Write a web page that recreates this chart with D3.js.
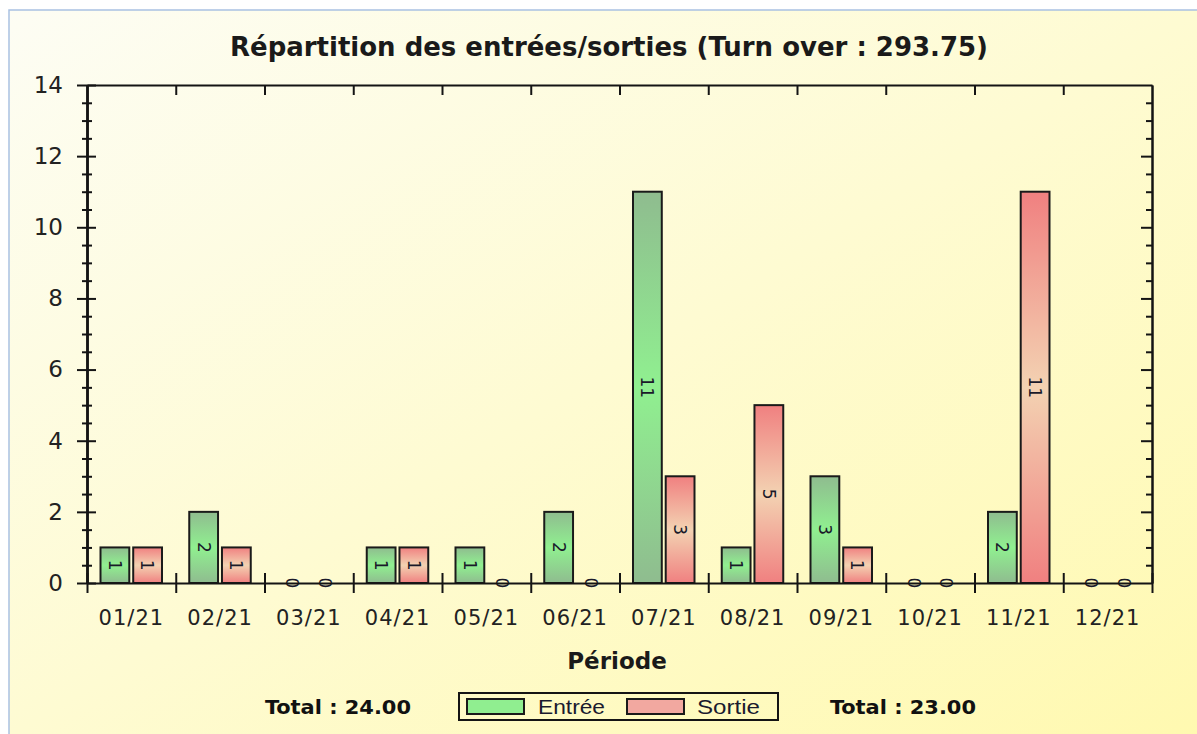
<!DOCTYPE html>
<html><head><meta charset="utf-8">
<script src="https://cdn.jsdelivr.net/npm/d3@7"></script>
<style>html,body{margin:0;padding:0;background:#fff;}svg{display:block;}</style>
</head><body>
<script>
const categories = ["01/21","02/21","03/21","04/21","05/21","06/21","07/21","08/21","09/21","10/21","11/21","12/21"];
const seriesNames = ["Entrée","Sortie"];
const entree = [1,2,0,1,1,2,11,1,3,0,2,0];
const sortie = [1,1,0,1,0,0,3,5,1,0,11,0];
const yMajorTicks = [0,2,4,6,8,10,12,14];
const yMinorTicks = [0.5,1,1.5,2.5,3,3.5,4.5,5,5.5,6.5,7,7.5,8.5,9,9.5,10.5,11,11.5,12.5,13,13.5];
const title = "Répartition des entrées/sorties (Turn over : 293.75)";
const xTitle = "Période";

const W = 1197, H = 734;
const L = 87, R = 1152, T = 85, B = 583;
const svg = d3.select("body").append("svg").attr("width", W).attr("height", H);
const defs = svg.append("defs");

const bg = defs.append("linearGradient").attr("id","bg").attr("x1",0).attr("y1",0).attr("x2",1).attr("y2",1);
bg.append("stop").attr("offset","0%").attr("stop-color","#fdfdf4");
bg.append("stop").attr("offset","100%").attr("stop-color","#fff9b0");

function barGrad(id, edge, mid){
  const g = defs.append("linearGradient").attr("id",id).attr("x1",0).attr("y1",0).attr("x2",0).attr("y2",1);
  g.append("stop").attr("offset","0%").attr("stop-color",edge);
  g.append("stop").attr("offset","50%").attr("stop-color",mid);
  g.append("stop").attr("offset","100%").attr("stop-color",edge);
}
barGrad("gGreen","#8fbc8f","#90f090");
barGrad("gRed","#f08080","#f3d2b2");
const fills = ["url(#gGreen)","url(#gRed)"];

svg.append("rect").attr("x",9).attr("y",10).attr("width",W-9+2).attr("height",H-10+2)
  .attr("fill","url(#bg)").attr("stroke","#a9c1e2").attr("stroke-width",1.5);

const x = d3.scaleBand().domain(categories).range([L,R]).paddingInner(0).paddingOuter(0);
const xi = d3.scaleBand().domain(seriesNames).range([13.5,75]).paddingInner(0.12);
const xb = d3.scaleLinear().domain([0,categories.length]).range([L,R]);
const y = d3.scaleLinear().domain([0,14]).range([B,T]);

const data = categories.map((c,i)=>({c, vals:[entree[i], sortie[i]]}));

// bars
const groups = svg.append("g").selectAll("g").data(data).join("g")
  .attr("transform", d=>`translate(${x(d.c)},0)`);
groups.selectAll("rect").data(d=>d.vals.map((v,k)=>({v,k})).filter(o=>o.v>0)).join("rect")
  .attr("x", o=>xi(seriesNames[o.k])).attr("width", xi.bandwidth())
  .attr("y", o=>y(o.v)).attr("height", o=>y(0)-y(o.v))
  .attr("fill", o=>fills[o.k]).attr("stroke","#1a1a1a").attr("stroke-width",2);

// value labels
groups.selectAll("text").data(d=>d.vals.map((v,k)=>({v,k}))).join("text")
  .attr("transform", o=>`translate(${xi(seriesNames[o.k])+xi.bandwidth()/2},${(y(o.v)+y(0))/2}) rotate(90)`)
  .attr("text-anchor","middle").attr("dy","0.36em")
  .attr("font-family","DejaVu Sans, sans-serif").attr("font-size",17).attr("fill","#1a1a2a")
  .text(o=>o.v);

const axStyle = g => { g.selectAll("path,line").attr("stroke","#141414").attr("stroke-width",2); g.selectAll("text").attr("fill","#222"); };

// left axis
svg.append("g").attr("transform",`translate(${L},0)`)
  .call(d3.axisLeft(y).tickValues(yMajorTicks).tickSize(10).tickSizeOuter(0).tickPadding(14).tickFormat(d3.format("d")))
  .call(g=>g.selectAll("text").attr("font-family","DejaVu Sans, sans-serif").attr("font-size",23))
  .call(axStyle);
svg.append("g").attr("transform",`translate(${L},0)`)
  .call(d3.axisRight(y).tickValues(yMajorTicks).tickSize(9).tickSizeOuter(0).tickFormat(""))
  .call(axStyle);
svg.append("g").attr("transform",`translate(${L},0)`)
  .call(d3.axisLeft(y).tickValues(yMinorTicks).tickSize(5).tickSizeOuter(0).tickFormat(""))
  .call(axStyle);
svg.append("g").attr("transform",`translate(${L},0)`)
  .call(d3.axisRight(y).tickValues(yMinorTicks).tickSize(5).tickSizeOuter(0).tickFormat(""))
  .call(axStyle);

// right axis
svg.append("g").attr("transform",`translate(${R},0)`)
  .call(d3.axisLeft(y).tickValues(yMajorTicks.filter(v=>v>0 && v<14)).tickSize(11).tickSizeOuter(0).tickFormat(""))
  .call(axStyle);
svg.append("g").attr("transform",`translate(${R},0)`)
  .call(d3.axisLeft(y).tickValues(yMinorTicks).tickSize(6).tickSizeOuter(0).tickFormat(""))
  .call(axStyle);

// top axis
svg.append("g").attr("transform",`translate(0,${T})`)
  .call(d3.axisBottom(xb).tickValues(d3.range(1,categories.length)).tickSize(10).tickSizeOuter(0).tickFormat(""))
  .call(axStyle);

// bottom axis
svg.append("g").attr("transform",`translate(0,${B})`)
  .call(d3.axisBottom(xb).tickValues(d3.range(0,categories.length+1)).tickSize(10).tickSizeOuter(0).tickFormat(""))
  .call(axStyle);
svg.append("g").attr("transform",`translate(0,${B})`)
  .call(d3.axisTop(xb).tickValues(d3.range(0,categories.length+1)).tickSize(10).tickSizeOuter(0).tickFormat(""))
  .call(g=>g.select(".domain").remove())
  .call(axStyle);
svg.append("g").attr("transform",`translate(0,${B})`)
  .call(d3.axisBottom(x).tickSize(0).tickPadding(27))
  .call(g=>g.select(".domain").remove())
  .call(g=>g.selectAll("text").attr("font-family","DejaVu Sans, sans-serif").attr("font-size",21).attr("letter-spacing","1px"))
  .call(axStyle);

// titles
svg.append("text").attr("x",609).attr("y",56).attr("text-anchor","middle")
  .attr("font-family","DejaVu Sans, sans-serif").attr("font-weight","bold").attr("font-size",26)
  .attr("fill","#1a1a1a").attr("textLength",758).attr("lengthAdjust","spacingAndGlyphs").text(title);
svg.append("text").attr("x",617).attr("y",669).attr("text-anchor","middle")
  .attr("font-family","DejaVu Sans, sans-serif").attr("font-weight","bold").attr("font-size",23)
  .attr("fill","#1a1a1a").text(xTitle);

// totals
const totals = [d3.sum(entree), d3.sum(sortie)];
const totalX = [265, 830];
svg.selectAll(".tot").data(totals).join("text").attr("class","tot")
  .attr("x",(d,i)=>totalX[i]).attr("y",714)
  .attr("font-family","DejaVu Sans Condensed, DejaVu Sans, sans-serif").attr("font-weight","bold").attr("font-size",19)
  .attr("fill","#111").attr("textLength",146).attr("lengthAdjust","spacingAndGlyphs")
  .text(d=>"Total : " + d.toFixed(2));

// legend
const lg = svg.append("g");
lg.append("rect").attr("x",459).attr("y",693).attr("width",319).attr("height",27)
  .attr("fill","none").attr("stroke","#141414").attr("stroke-width",2);
const legX = [467, 627], legTX = [538, 697], legTW = [67, 63];
const items = lg.selectAll(".li").data(seriesNames).join("g").attr("class","li");
items.append("rect").attr("x",(d,i)=>legX[i]).attr("y",699).attr("width",57).attr("height",15)
  .attr("fill",(d,i)=> i===0 ? "#90ee90" : "#f2a8a0").attr("stroke","#1a1a1a").attr("stroke-width",2);
items.append("text").attr("x",(d,i)=>legTX[i]).attr("y",714)
  .attr("font-family","Liberation Sans, Arial, sans-serif").attr("font-size",21).attr("fill","#1a1a2e")
  .attr("textLength",(d,i)=>legTW[i]).attr("lengthAdjust","spacingAndGlyphs")
  .text(d=>d);
</script>
</body></html>
